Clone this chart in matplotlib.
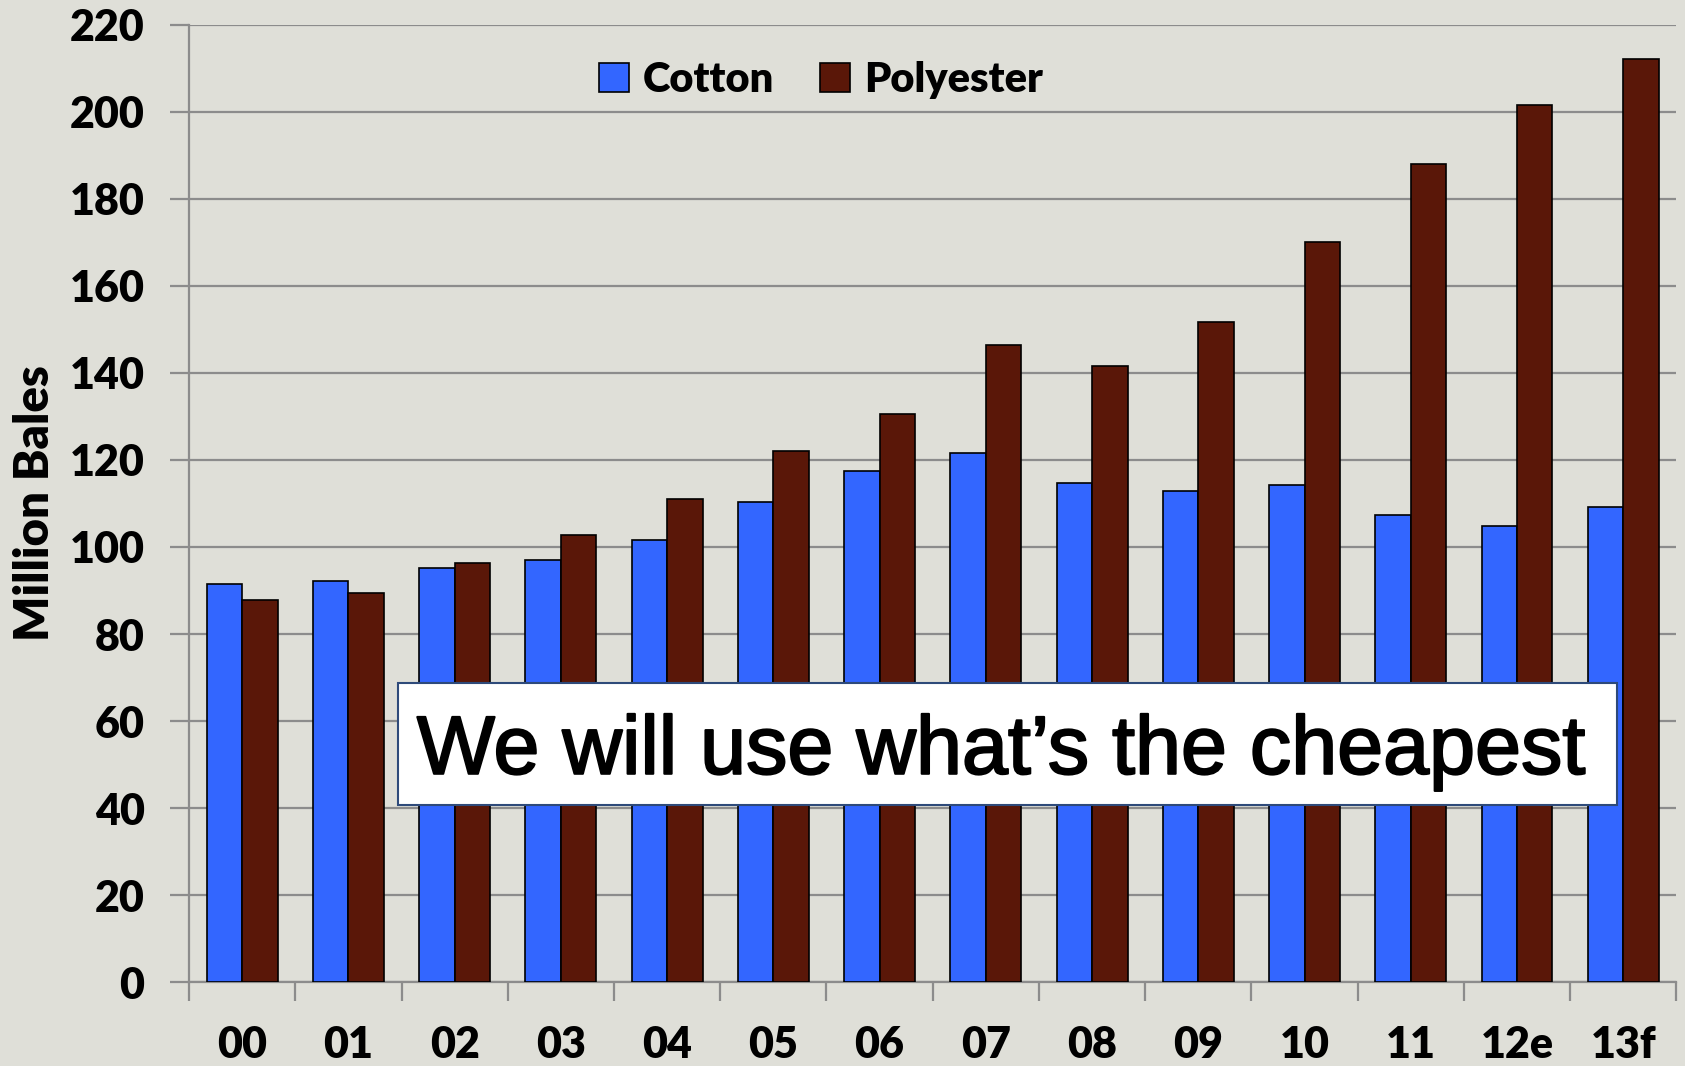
import numpy as np
import matplotlib
matplotlib.use("Agg")
import matplotlib.pyplot as plt
import matplotlib.patheffects as pe
from matplotlib.patches import Rectangle

# Data (million bales)
years = ["00", "01", "02", "03", "04", "05", "06", "07", "08", "09", "10", "11", "12e", "13f"]
cotton = [91.6, 92.3, 95.1, 97.0, 101.5, 110.4, 117.5, 121.5, 114.8, 112.8, 114.3, 107.4, 104.9, 109.1]
polyester = [87.9, 89.4, 96.3, 102.7, 111.1, 122.0, 130.6, 146.4, 141.5, 151.6, 170.1, 187.9, 201.5, 212.1]
y_ticks = list(range(0, 221, 20))

bg = "#dfdfd8"
grid_col = "#8c8c8c"
plt.rcParams["font.family"] = ["Lato", "DejaVu Sans"]

fig = plt.figure(figsize=(16.85, 10.66), dpi=100, facecolor=bg)
ax = fig.add_axes([0.1122, 0.0786, 0.8827, 0.8982])
ax.set_facecolor(bg)

x = np.arange(len(years))
w = 1 / 3
ax.bar(x - w / 2, cotton, w, color="#3366ff", edgecolor="black", linewidth=1.2, label="Cotton", zorder=3)
ax.bar(x + w / 2, polyester, w, color="#5a1708", edgecolor="black", linewidth=1.2, label="Polyester", zorder=3)

ax.set_xlim(-0.5, len(years) - 0.5)
ax.set_ylim(0, 220)
ax.set_yticks(y_ticks)
ax.set_yticklabels([str(v) for v in y_ticks], fontsize=31, fontweight="heavy")
ax.yaxis.grid(True, color=grid_col, linewidth=1.6, zorder=0)
ax.tick_params(axis="y", length=14, width=1.6, color=grid_col, pad=18)

# category labels at centres, ticks at category boundaries
ax.set_xticks(x)
ax.set_xticklabels(years, fontsize=31, fontweight="heavy")
ax.set_xticks(np.arange(-0.5, len(years)), minor=True)
ax.tick_params(axis="x", which="major", length=0, pad=31)
ax.tick_params(axis="x", which="minor", length=14, width=1.6, color=grid_col)

for s in ["top", "right"]:
    ax.spines[s].set_visible(False)
for s in ["left", "bottom"]:
    ax.spines[s].set_color(grid_col)
    ax.spines[s].set_linewidth(1.6)

ax.set_ylabel("Million Bales", fontsize=34, fontweight="heavy", labelpad=9)

leg = ax.legend(loc="center", bbox_to_anchor=(0.425, 0.942), ncol=2, frameon=False,
                prop={"size": 30, "weight": "heavy"}, handlelength=0.7, handleheight=0.7,
                handletextpad=0.35, columnspacing=1.1)

# callout box
box = Rectangle((0.1402, 0.185), 0.8199, 0.128, transform=ax.transAxes,
                facecolor="white", edgecolor="#2e4a7a", linewidth=1.5, zorder=5)
ax.add_patch(box)
ax.text(0.1532, 0.2177, "We will use what\u2019s the cheapest", transform=ax.transAxes,
        ha="left", va="baseline", fontsize=59.5, family=["Liberation Sans", "DejaVu Sans"],
        color="black", zorder=6,
        path_effects=[pe.withStroke(linewidth=1.5, foreground="black")])

fig.savefig("out.png", dpi=100, facecolor=bg)
